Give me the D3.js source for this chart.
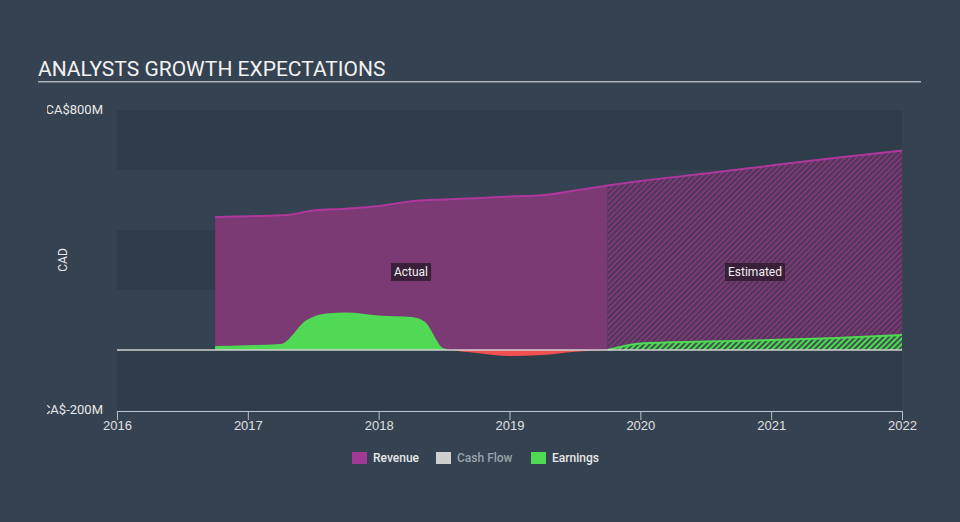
<!DOCTYPE html>
<html><head><meta charset="utf-8">
<script src="https://cdn.jsdelivr.net/npm/d3@7"></script>
<style>
html,body{margin:0;padding:0;background:#344251;}
svg{display:block;font-family:Roboto,"Open Sans",sans-serif;}
</style></head>
<body>
<svg id="c" width="960" height="522"></svg>
<script>
const revenueActual = [[2016.75,443],[2017.0,446],[2017.3,450],[2017.5,465],[2017.75,471],[2018.0,480],[2018.25,496],[2018.5,502],[2018.75,506],[2019.0,512],[2019.25,516],[2019.5,532],[2019.75,548]];
const revenueEstimate = [[2019.75,548],[2020.0,563],[2020.5,588],[2021.0,615],[2021.5,641],[2022.0,665]];
const earningsActual = [[2016.75,13],[2017.0,16],[2017.25,20],[2017.45,100],[2017.6,122],[2017.75,125],[2018.0,115],[2018.25,110],[2018.35,95],[2018.5,5],[2018.75,-10],[2019.0,-20],[2019.25,-17],[2019.5,-6],[2019.75,0]];
const earningsEstimate = [[2019.75,0],[2020.0,22],[2020.5,28],[2021.0,33],[2021.5,40],[2022.0,50]];
const yTicks = [800,-200];
const xTicks = [2016,2017,2018,2019,2020,2021,2022];
const bandStops = [800,600,400,200,0,-200];
const legendItems = [{name:"Revenue",color:"#a23a95",text:"#e8e8e8"},{name:"Cash Flow",color:"#cfcfcf",text:"#9aa3ad"},{name:"Earnings",color:"#4fd954",text:"#e8e8e8"}];

const svg = d3.select("#c");
const x = d3.scaleLinear().domain([2016,2022]).range([117,902]);
const y = d3.scaleLinear().domain([-200,800]).range([410,110]);

const defs = svg.append("defs");
function hatch(id,bg,fg){
  const p = defs.append("pattern").attr("id",id).attr("patternUnits","userSpaceOnUse")
    .attr("width",4).attr("height",4).attr("patternTransform","rotate(45)");
  p.append("rect").attr("width",4).attr("height",4).attr("fill",bg);
  p.append("rect").attr("width",2).attr("height",4).attr("fill",fg);
}
hatch("hRev","#4f3559","#7b3a74");
hatch("hEarn","#3b5749","#4fd954");
defs.append("clipPath").attr("id","above").append("rect").attr("x",0).attr("y",0).attr("width",960).attr("height",y(0));
defs.append("clipPath").attr("id","below").append("rect").attr("x",0).attr("y",y(0)).attr("width",960).attr("height",200);
defs.append("clipPath").attr("id","ylab").append("rect").attr("x",47).attr("y",0).attr("width",200).attr("height",522);

// title
svg.append("text").attr("x",38).attr("y",76).attr("fill","#f2f2f2").attr("font-size",21).text("ANALYSTS GROWTH EXPECTATIONS");
svg.append("rect").attr("x",38).attr("y",81).attr("width",883).attr("height",1.5).attr("fill","#a9b0b8");

// bands
for(let i=0;i<bandStops.length-1;i++){
  svg.append("rect").attr("x",x(2016)).attr("y",y(bandStops[i])).attr("width",x(2022)-x(2016))
    .attr("height",y(bandStops[i+1])-y(bandStops[i])).attr("fill", i%2===0 ? "#2f3c4a" : "#344251");
}

const curve = d3.curveMonotoneX;
const area = d3.area().x(d=>x(d[0])).y0(y(0)).y1(d=>y(d[1])).curve(curve);
const line = d3.line().x(d=>x(d[0])).y(d=>y(d[1])).curve(curve);

// revenue
svg.append("path").datum(revenueActual).attr("d",area).attr("fill","#7b3a74");
svg.append("path").datum(revenueEstimate).attr("d",area).attr("fill","url(#hRev)");
svg.append("path").datum(revenueActual.concat(revenueEstimate.slice(1))).attr("d",line).attr("fill","none").attr("stroke","#b0379c").attr("stroke-width",2);

// earnings
svg.append("path").datum(earningsActual).attr("d",area).attr("fill","#4fd954").attr("clip-path","url(#above)");
svg.append("path").datum(earningsActual).attr("d",area).attr("fill","#f25050").attr("clip-path","url(#below)");
svg.append("path").datum(earningsEstimate).attr("d",area).attr("fill","url(#hEarn)");
svg.append("path").datum(earningsEstimate).attr("d",line).attr("fill","none").attr("stroke","#4fd954").attr("stroke-width",2);

// zero line
svg.append("line").attr("x1",x(2016)).attr("x2",x(2022)).attr("y1",y(0)).attr("y2",y(0)).attr("stroke","#d0d0d0").attr("stroke-width",1.5);

// x axis
const xa = svg.append("g").attr("transform",`translate(0,${y(-200)+1})`)
  .call(d3.axisBottom(x).tickValues(xTicks).tickFormat(d3.format("d")).tickSize(9).tickSizeOuter(0));
xa.select(".domain").attr("stroke","#b8bec5");
xa.selectAll(".tick line").attr("stroke","#b8bec5");
xa.selectAll(".tick text").attr("fill","#e0e0e0").attr("font-size",13).attr("dy","0.55em");

// y labels
const yl = svg.append("g").attr("clip-path","url(#ylab)");
yl.selectAll("text").data(yTicks).join("text").attr("x",103).attr("y",d=>y(d)+4).attr("text-anchor","end")
  .attr("fill","#e8e8e8").attr("font-size",13).text(d=>"CA$"+d+"M");
svg.append("text").attr("transform",`translate(67,${y(300)}) rotate(-90)`).attr("text-anchor","middle")
  .attr("fill","#e8e8e8").attr("font-size",12).text("CAD");

// tags
function tag(txt,cx,cy){
  const g = svg.append("g");
  const r = g.append("rect");
  const t = g.append("text").attr("x",cx).attr("y",cy+4).attr("text-anchor","middle").attr("fill","#f0f0f0").attr("font-size",12).text(txt);
  const b = t.node().getBBox();
  r.attr("x",b.x-3).attr("y",cy-9).attr("width",b.width+6).attr("height",18).attr("fill","#3a1f38");
}
tag("Actual",411,272);
tag("Estimated",755,272);

// legend
const lx = [352,436,531];
const lg = svg.append("g");
legendItems.forEach((d,i)=>{
  lg.append("rect").attr("x",lx[i]).attr("y",452).attr("width",15).attr("height",12).attr("fill",d.color);
  lg.append("text").attr("x",lx[i]+21).attr("y",462).attr("fill",d.text).attr("font-size",12).attr("font-weight",500).text(d.name);
});
</script>
</body></html>
